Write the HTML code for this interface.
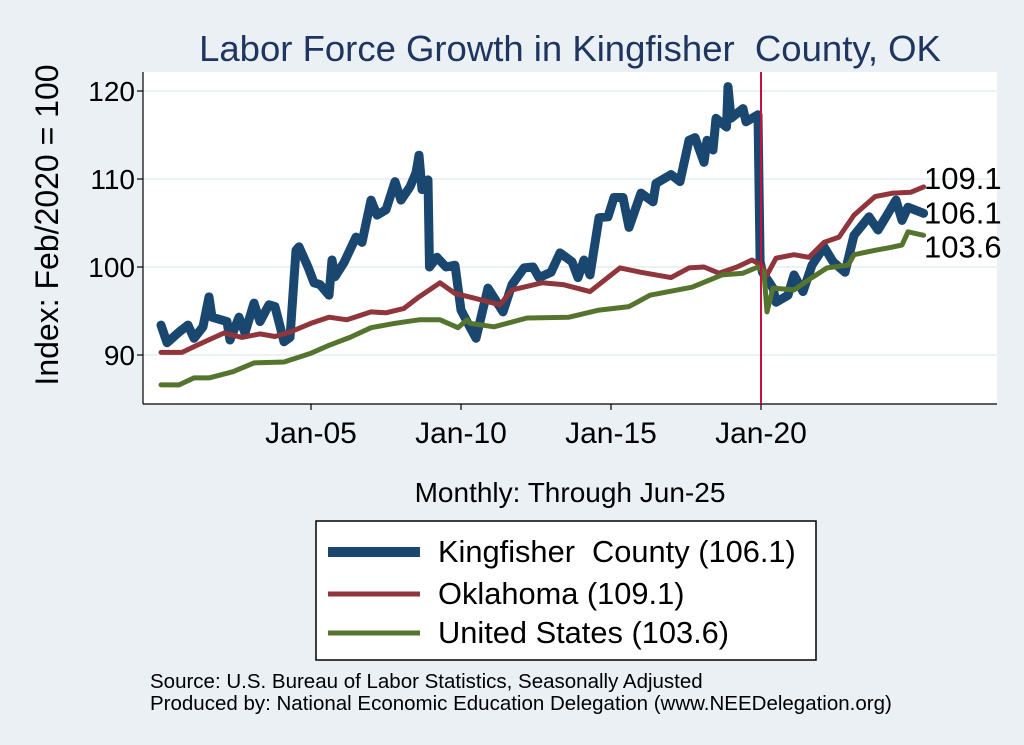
<!DOCTYPE html>
<html><head><meta charset="utf-8"><style>
html,body{margin:0;padding:0;background:#eaf0f4;}
svg{display:block;font-family:"Liberation Sans",Arial,sans-serif;}
text{white-space:pre;}
</style></head><body>
<svg id="chart" width="1024" height="745" viewBox="0 0 1024 745">
<rect x="0" y="0" width="1024" height="745" fill="#eaf0f4"/>
<rect x="143" y="72" width="854" height="332" fill="#ffffff"/>
<text x="570" y="61" text-anchor="middle" font-size="36.5" fill="#1e3560">Labor Force Growth in Kingfisher&#160; County, OK</text>
<text transform="translate(58,225) rotate(-90)" text-anchor="middle" font-size="32" fill="#000">Index: Feb/2020 = 100</text>
<text x="570" y="502" text-anchor="middle" font-size="28" fill="#000">Monthly: Through Jun-25</text>
<g id="grid"></g><g id="axes"></g><g id="series"></g><g id="endlabels"></g>
<g>
<rect x="316" y="521" width="500" height="139" fill="#fff" stroke="#000" stroke-width="1.5"/>
<line x1="328" y1="552" x2="420" y2="552" stroke="#1a476f" stroke-width="10"/>
<text x="438" y="562" font-size="30.8">Kingfisher&#160; County (106.1)</text>
<line x1="328" y1="594" x2="420" y2="594" stroke="#90353b" stroke-width="5"/>
<text x="438" y="604" font-size="30.8">Oklahoma (109.1)</text>
<line x1="328" y1="633" x2="420" y2="633" stroke="#55752f" stroke-width="5"/>
<text x="438" y="643" font-size="30.8">United States (103.6)</text>
</g>
<text x="150" y="688" font-size="20.5">Source: U.S. Bureau of Labor Statistics, Seasonally Adjusted</text>
<text x="150" y="710" font-size="20.5">Produced by: National Economic Education Delegation (www.NEEDelegation.org)</text>
</svg>
<script>
const yTicks=[90,100,110,120];
const xTickYears=[2005,2010,2015,2020];
const xTickLabels=["Jan-05","Jan-10","Jan-15","Jan-20"];
const kfDates=[2000.0,2000.2,2000.6,2000.9,2001.1,2001.4,2001.6,2001.7,2002.2,2002.3,2002.6,2002.8,2003.1,2003.3,2003.6,2003.8,2004.1,2004.3,2004.5,2004.6,2004.9,2005.1,2005.3,2005.6,2005.7,2005.8,2006.1,2006.5,2006.7,2007.0,2007.2,2007.5,2007.8,2008.0,2008.3,2008.5,2008.6,2008.7,2008.9,2008.95,2009.2,2009.5,2009.8,2010.0,2010.2,2010.5,2010.9,2011.4,2011.7,2012.1,2012.4,2012.6,2013.0,2013.3,2013.7,2013.9,2014.1,2014.3,2014.6,2014.9,2015.1,2015.4,2015.6,2016.0,2016.4,2016.5,2017.0,2017.3,2017.6,2017.8,2018.1,2018.2,2018.4,2018.5,2018.85,2018.9,2019.0,2019.4,2019.5,2019.9,2019.97,2020.05,2020.4,2020.5,2020.9,2021.1,2021.4,2021.7,2022.1,2022.4,2022.8,2023.1,2023.6,2023.9,2024.2,2024.5,2024.7,2024.9,2025.42];
const kfValues=[93.4,91.4,92.6,93.4,91.9,93.2,96.6,94.3,93.8,91.7,94.3,92.5,95.9,93.8,95.7,95.5,91.5,92.0,101.9,102.3,100,98.2,98.0,96.8,100.8,98.9,100.5,103.4,102.8,107.6,105.9,106.5,109.7,107.6,109.1,110.7,112.7,108.8,109.9,100,101.1,100,100.2,95.1,93.8,91.9,97.6,94.9,98,99.9,100,98.8,99.4,101.6,100.6,98.8,100.8,99.1,105.6,105.7,107.9,107.9,104.5,108.4,107.4,109.5,110.5,109.7,114.4,114.7,111.9,114.4,113.3,116.9,115.9,120.5,116.9,118.0,116.5,117.3,100.6,99.4,97.6,96,96.8,99.1,97.2,100.2,102.3,100.6,99.4,103.6,105.7,104.2,105.9,107.6,105.3,106.8,106.1];
const okDates=[2000.0,2000.7,2001.2,2002.1,2002.7,2003.3,2003.8,2004.3,2005.0,2005.6,2006.2,2007.0,2007.5,2008.1,2008.6,2009.3,2009.8,2010.4,2011.3,2011.7,2012.7,2013.4,2014.3,2015.3,2016.0,2017.0,2017.6,2018.1,2018.6,2019.2,2019.7,2020.0,2020.2,2020.5,2021.1,2021.6,2022.1,2022.6,2023.1,2023.8,2024.4,2025.0,2025.42];
const okValues=[90.3,90.3,91.1,92.5,92.0,92.4,92.1,92.6,93.6,94.3,94.0,94.9,94.8,95.3,96.6,98.2,97.0,96.5,95.7,97.4,98.2,98,97.2,99.9,99.4,98.8,99.9,100,99.3,100,100.8,100.2,99.1,101,101.4,101.1,102.8,103.4,105.9,108,108.4,108.5,109.1];
const usDates=[2000.0,2000.6,2001.1,2001.6,2002.4,2003.1,2004.1,2005.0,2005.6,2006.3,2007.0,2007.8,2008.6,2009.3,2009.9,2010.2,2010.3,2011.1,2012.2,2013.6,2014.6,2015.6,2016.3,2017.7,2018.7,2019.4,2019.9,2020.1,2020.2,2020.4,2021.1,2021.7,2022.2,2022.9,2023.1,2023.8,2024.3,2024.7,2024.9,2025.42];
const usValues=[86.6,86.6,87.4,87.4,88.1,89.1,89.2,90.2,91.1,92.0,93.1,93.6,94.0,94.0,93.1,94.0,93.6,93.2,94.2,94.3,95.1,95.5,96.8,97.7,99.1,99.3,100,99.4,94.9,97.6,97.4,98.8,99.9,100.2,101.4,101.9,102.2,102.5,104.0,103.6];
const endValues=[109.1,106.1,103.6];

const X0=143,X1=997,Y0=72,Y1=404;
function xs(yr){return 161+(yr-2000)*30;}
function ys(v){return 267-(v-100)*8.8;}
const NS="http://www.w3.org/2000/svg";
function mk(tag,attrs,parent){const e=document.createElementNS(NS,tag);for(const k in attrs)e.setAttribute(k,attrs[k]);parent.appendChild(e);return e;}
const grid=document.getElementById('grid'),axes=document.getElementById('axes'),ser=document.getElementById('series'),endl=document.getElementById('endlabels');
yTicks.forEach(v=>{
  const g=mk('line',{x1:X0,x2:X1,y1:ys(v),y2:ys(v),stroke:'#eaf2f3','stroke-width':2},grid);
  
  
  const t=mk('line',{x1:X0-6,x2:X0,y1:ys(v),y2:ys(v),stroke:'#000','stroke-width':1.2},axes);
  
  
  const l=mk('text',{x:X0-8,y:ys(v)+10,'text-anchor':'end','font-size':28},axes);
  l.textContent=v;
  
  
});
const ax1=mk('line',{x1:X0,x2:X0,y1:Y0,y2:Y1,stroke:'#000','stroke-width':1.2},axes);


const ax2=mk('line',{x1:X0,x2:X1,y1:Y1,y2:Y1,stroke:'#000','stroke-width':1.2},axes);


xTickYears.forEach((yr,i)=>{
  const t=mk('line',{x1:xs(yr),x2:xs(yr),y1:Y1,y2:Y1+6,stroke:'#000','stroke-width':1.2},axes);
  
  
  const l=mk('text',{x:xs(yr),y:443,'text-anchor':'middle','font-size':30},axes);
  l.textContent=xTickLabels[i];
  
  
});
function path(d,v,color,w,name){
  const p=mk('path',{d:d.map((x,i)=>(i?'L':'M')+xs(x).toFixed(1)+','+ys(v[i]).toFixed(1)).join(''),fill:'none',stroke:color,'stroke-width':w,'stroke-linejoin':'round','stroke-linecap':'round'},ser);
  
  
}
path(kfDates,kfValues,'#1a476f',9,'kingfisher-line');
path(okDates,okValues,'#90353b',5,'oklahoma-line');
path(usDates,usValues,'#55752f',5,'us-line');
const vl=mk('line',{x1:xs(2020),x2:xs(2020),y1:Y0,y2:Y1,stroke:'#c8103e','stroke-width':2},ser);


const labY=[ys(endValues[0])+2,ys(endValues[1])+10,ys(endValues[2])+22];
endValues.forEach((v,i)=>{
  const t=mk('text',{x:924,y:labY[i],'font-size':31,fill:'#000'},endl);
  t.textContent=v.toFixed(1);
  
  
});
</script>
</body></html>
